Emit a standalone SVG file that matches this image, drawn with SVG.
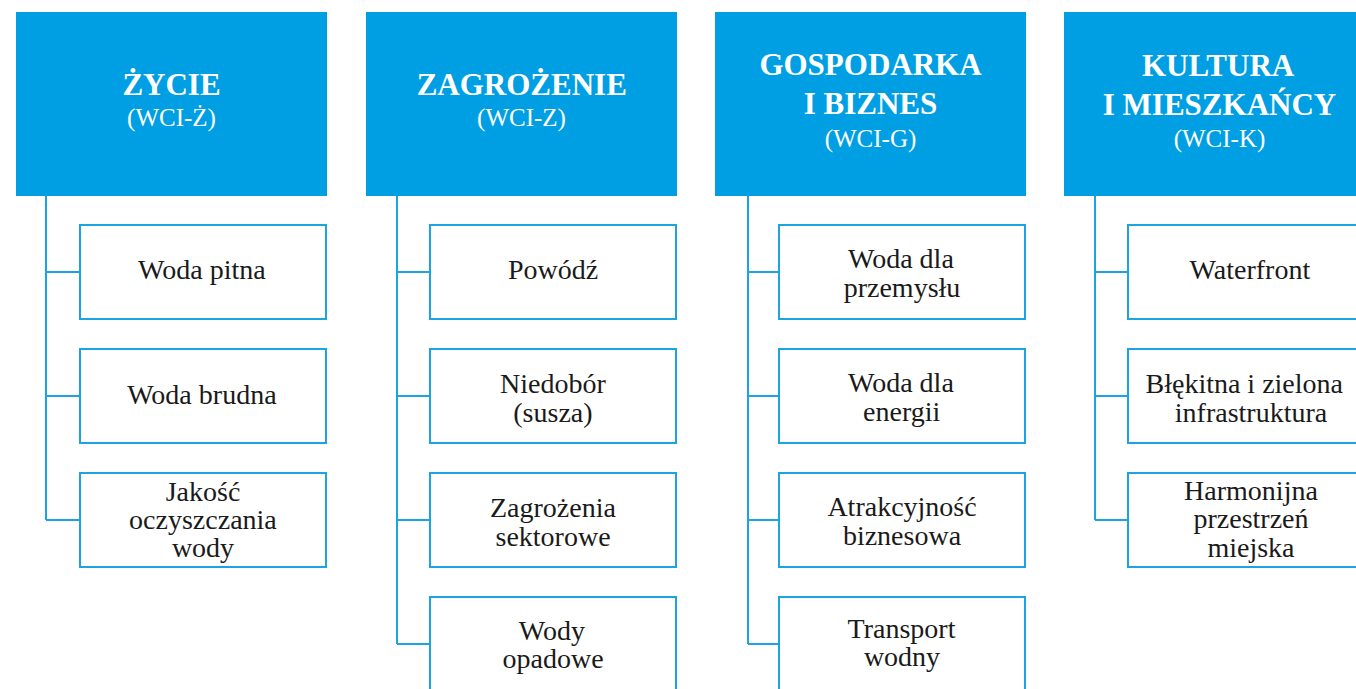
<svg xmlns="http://www.w3.org/2000/svg" width="1356" height="689" viewBox="0 0 1356 689">
<style>
.hdr{fill:#009FE3}
.box{fill:#fff;stroke:#1BA3E2;stroke-width:2}
.ln{stroke:#1BA3E2;stroke-width:2;fill:none}
.ht{font-family:'Liberation Serif',serif;font-weight:bold;font-size:31px;fill:#fff}
.hs{font-family:'Liberation Serif',serif;font-size:25px;fill:#fff}
.ct{font-family:'Liberation Serif',serif;font-size:28px;fill:#1a1a1a}
</style>
<rect width="1356" height="689" fill="#fff"/>
<g id="connectors">
<path class="ln" d="M46,196V520M46,272H80M46,396H80M46,520H80"/>
<path class="ln" d="M397,196V644M397,272H430M397,396H430M397,520H430M397,644H430"/>
<path class="ln" d="M748,196V644M748,272H779M748,396H779M748,520H779M748,644H779"/>
<path class="ln" d="M1095,196V520M1095,272H1128M1095,396H1128M1095,520H1128"/>
</g>
<g id="h1"><rect class="hdr" x="16" y="12" width="311" height="184"/><text class="ht" x="122.4" y="95">ŻYCIE</text><text class="hs" x="127.1" y="126">(WCI-Ż)</text></g>
<g id="h2"><rect class="hdr" x="366" y="12" width="311" height="184"/><text class="ht" x="416.7" y="95">ZAGROŻENIE</text><text class="hs" x="477.1" y="126">(WCI-Z)</text></g>
<g id="h3"><rect class="hdr" x="715" y="12" width="311" height="184"/><text class="ht" x="759.4" y="75">GOSPODARKA</text><text class="ht" x="803.7" y="114">I BIZNES</text><text class="hs" x="824.7" y="147">(WCI-G)</text></g>
<g id="h4"><rect class="hdr" x="1064" y="12" width="311" height="184"/><text class="ht" x="1142" y="76">KULTURA</text><text class="ht" x="1102.8" y="115">I MIESZKAŃCY</text><text class="hs" x="1173.7" y="147">(WCI-K)</text></g>

<g id="c1r1"><rect class="box" x="80" y="225" width="246" height="94"/><text class="ct" x="138.1" y="279">Woda pitna</text></g>
<g id="c1r2"><rect class="box" x="80" y="349" width="246" height="94"/><text class="ct" x="127.2" y="404">Woda brudna</text></g>
<g id="c1r3"><rect class="box" x="80" y="473" width="246" height="94"/><text class="ct" x="165.7" y="501">Jakość</text><text class="ct" x="129.1" y="529">oczyszczania</text><text class="ct" x="171.9" y="557">wody</text></g>

<g id="c2r1"><rect class="box" x="430" y="225" width="246" height="94"/><text class="ct" x="507.9" y="279">Powódź</text></g>
<g id="c2r2"><rect class="box" x="430" y="349" width="246" height="94"/><text class="ct" x="500.1" y="393">Niedobór</text><text class="ct" x="513.3" y="422">(susza)</text></g>
<g id="c2r3"><rect class="box" x="430" y="473" width="246" height="94"/><text class="ct" x="490" y="517">Zagrożenia</text><text class="ct" x="495.5" y="546">sektorowe</text></g>
<g id="c2r4"><rect class="box" x="430" y="597" width="246" height="94"/><text class="ct" x="518.8" y="640">Wody</text><text class="ct" x="502.5" y="668">opadowe</text></g>

<g id="c3r1"><rect class="box" x="779" y="225" width="246" height="94"/><text class="ct" x="848" y="268">Woda dla</text><text class="ct" x="843.7" y="297">przemysłu</text></g>
<g id="c3r2"><rect class="box" x="779" y="349" width="246" height="94"/><text class="ct" x="848" y="392">Woda dla</text><text class="ct" x="863.1" y="421">energii</text></g>
<g id="c3r3"><rect class="box" x="779" y="473" width="246" height="94"/><text class="ct" x="827.4" y="516">Atrakcyjność</text><text class="ct" x="842.9" y="545">biznesowa</text></g>
<g id="c3r4"><rect class="box" x="779" y="597" width="246" height="94"/><text class="ct" x="847.6" y="638">Transport</text><text class="ct" x="863.9" y="666">wodny</text></g>

<g id="c4r1"><rect class="box" x="1128" y="225" width="246" height="94"/><text class="ct" x="1189.6" y="279">Waterfront</text></g>
<g id="c4r2"><rect class="box" x="1128" y="349" width="246" height="94"/><text class="ct" x="1145.5" y="393">Błękitna i zielona</text><text class="ct" x="1174.8" y="422">infrastruktura</text></g>
<g id="c4r3"><rect class="box" x="1128" y="473" width="246" height="94"/><text class="ct" x="1184.1" y="500">Harmonijna</text><text class="ct" x="1193.5" y="528">przestrzeń</text><text class="ct" x="1207.4" y="557">miejska</text></g>
</svg>
